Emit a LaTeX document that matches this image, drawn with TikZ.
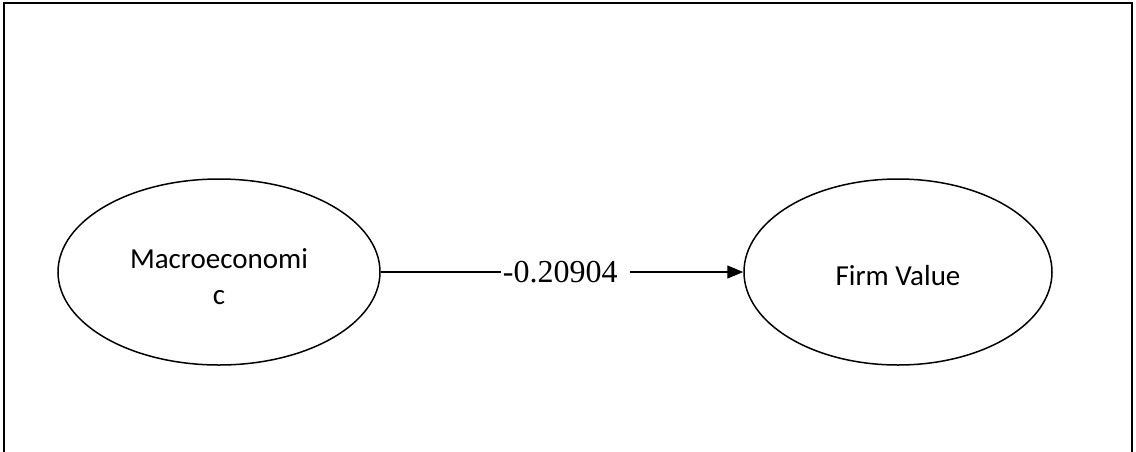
\documentclass[tikz,border=0pt]{standalone}
\usepackage{fontspec}
\setmainfont{Liberation Serif}
\newfontfamily\calibrilike{Carlito}
\usetikzlibrary{shapes.geometric,arrows.meta}
\begin{document}
\begin{tikzpicture}[x=0.5pt,y=-0.5pt,
  construct/.style={draw, line width=0.75pt, ellipse, inner sep=0pt},
  caption/.style={font=\calibrilike\fontsize{14.5}{18}\selectfont, align=center, inner sep=0pt},
  path/.style={line width=0.7pt, -{Triangle[length=8pt,width=6.5pt]}},
  coef/.style={font=\fontsize{16}{19}\selectfont, fill=white, inner sep=0pt}
]
\useasboundingbox (0,0) rectangle (1136,451);
\clip (0,0) rectangle (1136,451);
% outer frame (continues below the page edge)
\draw[line width=1pt] (3.5,2.5) rectangle (1131.5,480);

% latent constructs
\node[construct, minimum width=161pt, minimum height=93pt] (mac) at (219,272) {};
\node[construct, minimum width=154pt, minimum height=93pt] (fv) at (898,272) {};
\node[caption] (macT) at (219,277) {Macroeconomi\\c};
\node[caption] (fvT) at (898,276) {Firm Value};

% structural path with its coefficient
\draw[path] (mac.east) -- node[coef, pos=0.3297, anchor=west] (b) {\kern1pt-0.20904\kern6pt} (fv.west);
\end{tikzpicture}
\end{document}
